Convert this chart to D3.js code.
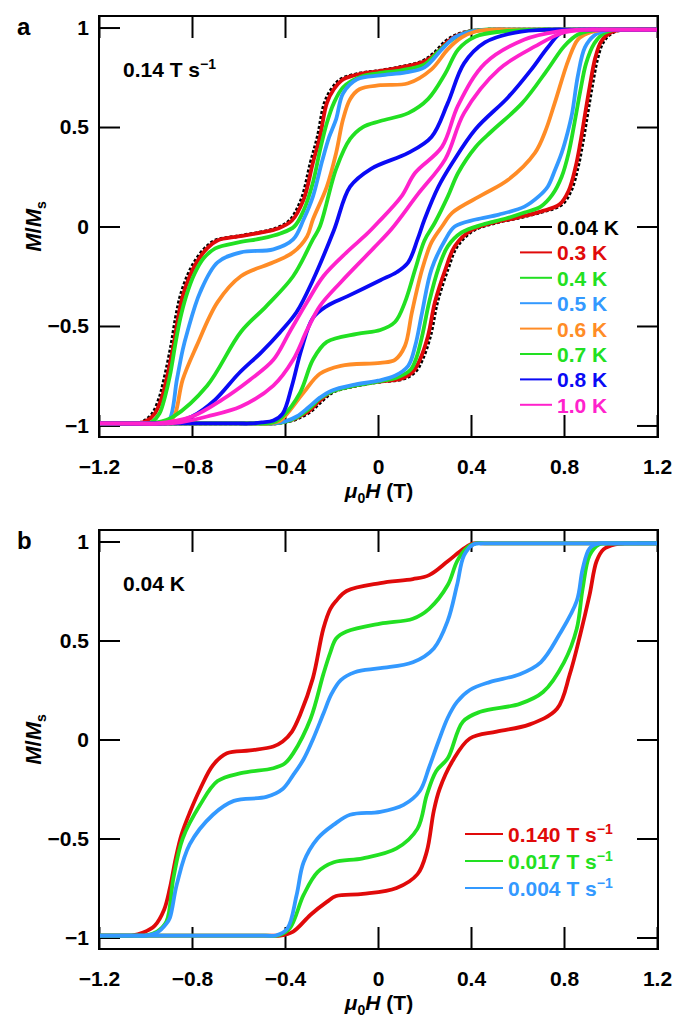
<!DOCTYPE html>
<html><head><meta charset="utf-8">
<script src="https://cdn.jsdelivr.net/npm/d3@7"></script>
<style>
body{margin:0;background:#fff}
text{font-family:"Liberation Sans",Arial,Helvetica,sans-serif;font-weight:bold}
</style>
</head><body>
<svg id="c" width="675" height="1021"></svg>
<script>
// ---------- axis ticks ----------
const xTicks = [-1.2,-0.8,-0.4,0,0.4,0.8,1.2];
const yTicks = [-1,-0.5,0,0.5,1];

// ---------- panel a : 0.14 T/s, temperature series ----------
const tempLabels = ["0.04 K","0.3 K","0.4 K","0.5 K","0.6 K","0.7 K","0.8 K","1.0 K"];
const tempColors = ["#000000","#e00a0a","#22e022","#3399ff","#ff8c26","#22e022","#0a0af5","#ff22cc"];

const k004Up = [[-1.2,-0.99],[-0.49,-0.99],[-0.44,-0.99],[-0.41,-0.985],[-0.37,-0.975],[-0.34,-0.962],[-0.29,-0.93],[-0.24,-0.875],[-0.19,-0.83],[-0.09,-0.80],[0.01,-0.78],[0.11,-0.765],[0.16,-0.73],[0.19,-0.67],[0.225,-0.55],[0.255,-0.38],[0.30,-0.215],[0.34,-0.10],[0.41,-0.02],[0.51,0.02],[0.61,0.045],[0.71,0.075],[0.79,0.11],[0.83,0.18],[0.86,0.30],[0.88,0.42],[0.90,0.56],[0.92,0.70],[0.945,0.85],[0.97,0.93],[1.01,0.975],[1.06,0.99],[1.11,0.99],[1.2,0.99]];
const k004Down = [[-1.2,-0.99],[-1.1,-0.99],[-1.05,-0.99],[-1.01,-0.98],[-0.97,-0.94],[-0.94,-0.86],[-0.92,-0.77],[-0.89,-0.60],[-0.87,-0.46],[-0.85,-0.35],[-0.82,-0.25],[-0.79,-0.18],[-0.745,-0.11],[-0.70,-0.07],[-0.61,-0.05],[-0.51,-0.03],[-0.44,-0.01],[-0.38,0.03],[-0.33,0.135],[-0.29,0.32],[-0.26,0.45],[-0.23,0.62],[-0.20,0.69],[-0.16,0.74],[-0.075,0.77],[-0.01,0.78],[0.09,0.80],[0.19,0.83],[0.24,0.87],[0.29,0.93],[0.34,0.965],[0.41,0.985],[0.49,0.99],[0.54,0.99],[1.2,0.99]];

const k03Up = [[-1.2,-0.99],[-0.5,-0.99],[-0.45,-0.99],[-0.42,-0.985],[-0.38,-0.975],[-0.35,-0.962],[-0.3,-0.93],[-0.25,-0.875],[-0.2,-0.83],[-0.1,-0.80],[0,-0.78],[0.1,-0.765],[0.15,-0.73],[0.18,-0.67],[0.215,-0.55],[0.245,-0.38],[0.29,-0.215],[0.33,-0.10],[0.4,-0.02],[0.5,0.02],[0.6,0.045],[0.7,0.075],[0.78,0.11],[0.82,0.18],[0.85,0.30],[0.87,0.42],[0.89,0.56],[0.91,0.70],[0.935,0.85],[0.96,0.93],[1.0,0.975],[1.05,0.99],[1.1,0.99],[1.2,0.99]];
const k03Down = [[-1.2,-0.99],[-1.09,-0.99],[-1.04,-0.99],[-1.0,-0.98],[-0.96,-0.94],[-0.93,-0.86],[-0.91,-0.77],[-0.88,-0.60],[-0.86,-0.46],[-0.84,-0.35],[-0.81,-0.25],[-0.78,-0.18],[-0.735,-0.11],[-0.69,-0.07],[-0.6,-0.05],[-0.5,-0.03],[-0.43,-0.01],[-0.37,0.03],[-0.32,0.135],[-0.28,0.32],[-0.25,0.45],[-0.22,0.62],[-0.19,0.69],[-0.15,0.74],[-0.065,0.77],[0,0.78],[0.1,0.80],[0.2,0.83],[0.25,0.87],[0.3,0.93],[0.35,0.965],[0.42,0.985],[0.5,0.99],[0.55,0.99],[1.2,0.99]];

const k04Up = [[-1.2,-0.99],[-0.5,-0.99],[-0.45,-0.99],[-0.40,-0.982],[-0.35,-0.96],[-0.30,-0.92],[-0.25,-0.865],[-0.2,-0.83],[-0.1,-0.80],[0,-0.78],[0.08,-0.76],[0.14,-0.72],[0.165,-0.66],[0.19,-0.55],[0.22,-0.38],[0.26,-0.21],[0.30,-0.10],[0.36,-0.03],[0.45,0.01],[0.55,0.04],[0.63,0.07],[0.70,0.10],[0.75,0.16],[0.79,0.25],[0.82,0.37],[0.845,0.52],[0.87,0.68],[0.895,0.82],[0.93,0.92],[0.97,0.97],[1.02,0.99],[1.07,0.99],[1.2,0.99]];
const k04Down = [[-1.2,-0.99],[-1.05,-0.99],[-1.0,-0.99],[-0.97,-0.98],[-0.94,-0.94],[-0.915,-0.85],[-0.895,-0.75],[-0.87,-0.58],[-0.85,-0.46],[-0.825,-0.35],[-0.79,-0.24],[-0.75,-0.16],[-0.7,-0.11],[-0.6,-0.08],[-0.5,-0.06],[-0.42,-0.035],[-0.36,0.0],[-0.32,0.08],[-0.28,0.22],[-0.25,0.38],[-0.22,0.52],[-0.19,0.62],[-0.15,0.70],[-0.08,0.75],[0,0.77],[0.1,0.785],[0.2,0.815],[0.26,0.88],[0.32,0.94],[0.38,0.975],[0.46,0.99],[0.51,0.99],[1.2,0.99]];

const k05Up = [[-1.2,-0.99],[-0.5,-0.99],[-0.45,-0.99],[-0.40,-0.98],[-0.35,-0.955],[-0.30,-0.91],[-0.25,-0.86],[-0.2,-0.825],[-0.1,-0.795],[0,-0.775],[0.073,-0.75],[0.13,-0.70],[0.16,-0.60],[0.19,-0.43],[0.23,-0.215],[0.29,-0.065],[0.33,0],[0.42,0.035],[0.52,0.06],[0.63,0.10],[0.69,0.15],[0.73,0.2],[0.76,0.28],[0.79,0.37],[0.815,0.47],[0.835,0.57],[0.86,0.76],[0.89,0.9],[0.93,0.96],[0.98,0.985],[1.02,0.99],[1.07,0.99],[1.2,0.99]];
const k05Down = [[-1.2,-0.99],[-1.0,-0.99],[-0.95,-0.99],[-0.92,-0.985],[-0.895,-0.965],[-0.865,-0.77],[-0.84,-0.62],[-0.82,-0.53],[-0.765,-0.33],[-0.69,-0.18],[-0.59,-0.13],[-0.45,-0.115],[-0.365,-0.065],[-0.32,0.035],[-0.28,0.15],[-0.24,0.33],[-0.21,0.45],[-0.18,0.54],[-0.15,0.67],[-0.09,0.74],[0.01,0.76],[0.12,0.775],[0.2,0.80],[0.275,0.89],[0.33,0.95],[0.4,0.98],[0.5,0.99],[0.55,0.99],[1.2,0.99]];

const k06Up = [[-1.2,-0.99],[-0.52,-0.99],[-0.47,-0.99],[-0.42,-0.975],[-0.39,-0.94],[-0.32,-0.835],[-0.25,-0.74],[-0.16,-0.70],[0.01,-0.685],[0.073,-0.67],[0.116,-0.60],[0.146,-0.43],[0.19,-0.215],[0.23,-0.08],[0.275,0.0],[0.32,0.07],[0.45,0.16],[0.56,0.235],[0.675,0.37],[0.72,0.48],[0.76,0.62],[0.82,0.84],[0.86,0.94],[0.9,0.97],[0.97,0.99],[1.02,0.99],[1.2,0.99]];
const k06Down = [[-1.2,-0.99],[-1.0,-0.99],[-0.95,-0.99],[-0.9,-0.98],[-0.875,-0.95],[-0.84,-0.77],[-0.78,-0.60],[-0.69,-0.38],[-0.59,-0.25],[-0.45,-0.18],[-0.365,-0.13],[-0.305,-0.05],[-0.28,0.035],[-0.22,0.2],[-0.18,0.37],[-0.15,0.54],[-0.12,0.64],[-0.08,0.69],[0.01,0.71],[0.13,0.72],[0.23,0.79],[0.30,0.89],[0.36,0.95],[0.42,0.98],[0.5,0.99],[0.55,0.99],[1.2,0.99]];

const k07Up = [[-1.2,-0.99],[-0.53,-0.99],[-0.48,-0.99],[-0.44,-0.98],[-0.41,-0.955],[-0.335,-0.835],[-0.28,-0.67],[-0.22,-0.58],[-0.09,-0.54],[0.01,-0.52],[0.073,-0.48],[0.116,-0.38],[0.16,-0.215],[0.2,-0.07],[0.245,0.02],[0.3,0.15],[0.345,0.27],[0.42,0.40],[0.49,0.48],[0.62,0.62],[0.73,0.79],[0.80,0.905],[0.86,0.965],[0.95,0.99],[1.0,0.99],[1.2,0.99]];
const k07Down = [[-1.2,-0.99],[-1.0,-0.99],[-0.95,-0.985],[-0.88,-0.955],[-0.735,-0.80],[-0.59,-0.53],[-0.48,-0.40],[-0.365,-0.25],[-0.28,-0.065],[-0.25,0.0],[-0.18,0.29],[-0.12,0.44],[-0.065,0.50],[0.01,0.53],[0.13,0.57],[0.215,0.64],[0.29,0.77],[0.345,0.89],[0.42,0.955],[0.53,0.98],[0.7,0.99],[0.75,0.99],[1.2,0.99]];

const k08Up = [[-1.2,-0.99],[-0.6,-0.99],[-0.55,-0.99],[-0.5,-0.985],[-0.45,-0.975],[-0.41,-0.94],[-0.37,-0.80],[-0.33,-0.62],[-0.28,-0.46],[-0.22,-0.40],[-0.13,-0.35],[0.01,-0.27],[0.08,-0.23],[0.13,-0.18],[0.17,-0.065],[0.2,0.035],[0.26,0.2],[0.32,0.32],[0.42,0.49],[0.56,0.65],[0.66,0.79],[0.73,0.9],[0.79,0.975],[0.9,0.99],[0.95,0.99],[1.2,0.99]];
const k08Down = [[-1.2,-0.99],[-0.93,-0.99],[-0.88,-0.985],[-0.8,-0.955],[-0.7,-0.87],[-0.6,-0.74],[-0.5,-0.63],[-0.42,-0.53],[-0.35,-0.43],[-0.28,-0.27],[-0.19,-0.02],[-0.12,0.2],[-0.03,0.29],[0.13,0.37],[0.23,0.45],[0.30,0.62],[0.37,0.82],[0.46,0.925],[0.59,0.975],[0.75,0.99],[0.8,0.99],[1.2,0.99]];

const k10Up = [[-1.2,-0.99],[-0.9,-0.99],[-0.85,-0.985],[-0.735,-0.955],[-0.59,-0.905],[-0.45,-0.80],[-0.365,-0.67],[-0.305,-0.52],[-0.25,-0.40],[-0.16,-0.28],[-0.02,-0.11],[0.06,-0.01],[0.17,0.16],[0.29,0.34],[0.37,0.57],[0.52,0.79],[0.675,0.905],[0.80,0.975],[0.95,0.99],[1.0,0.99],[1.2,0.99]];
const k10Down = [[-1.2,-0.99],[-1.0,-0.99],[-0.95,-0.99],[-0.8,-0.955],[-0.67,-0.87],[-0.55,-0.77],[-0.45,-0.67],[-0.38,-0.53],[-0.305,-0.38],[-0.235,-0.25],[-0.135,-0.13],[-0.05,-0.04],[0.0,0.02],[0.1,0.15],[0.16,0.27],[0.275,0.40],[0.345,0.61],[0.46,0.82],[0.63,0.94],[0.77,0.98],[0.9,0.99],[0.95,0.99],[1.2,0.99]];

// ---------- panel b : 0.04 K, sweep-rate series ----------
const rateLabels = ["0.140","0.017","0.004"];
const rateColors = ["#e00a0a","#22e022","#3399ff"];

const r140Up = [[-1.2,-0.99],[-0.47,-0.99],[-0.42,-0.99],[-0.365,-0.97],[-0.29,-0.885],[-0.22,-0.82],[-0.18,-0.79],[-0.065,-0.78],[0.08,-0.75],[0.17,-0.68],[0.21,-0.565],[0.24,-0.36],[0.265,-0.25],[0.32,-0.11],[0.395,0.005],[0.51,0.04],[0.65,0.075],[0.77,0.155],[0.825,0.33],[0.87,0.53],[0.91,0.73],[0.94,0.90],[0.97,0.96],[1.02,0.985],[1.06,0.99],[1.11,0.99],[1.2,0.99]];
const r140Down = [[-1.2,-0.99],[-1.11,-0.99],[-1.06,-0.99],[-1.01,-0.975],[-0.96,-0.94],[-0.92,-0.86],[-0.895,-0.75],[-0.87,-0.60],[-0.845,-0.48],[-0.81,-0.37],[-0.765,-0.25],[-0.71,-0.13],[-0.65,-0.07],[-0.55,-0.055],[-0.45,-0.035],[-0.41,-0.01],[-0.37,0.04],[-0.335,0.125],[-0.28,0.31],[-0.235,0.56],[-0.205,0.66],[-0.18,0.70],[-0.135,0.75],[0.01,0.79],[0.15,0.81],[0.22,0.83],[0.30,0.90],[0.37,0.965],[0.41,0.99],[0.46,0.99],[1.2,0.99]];

const r017Up = [[-1.2,-0.99],[-0.48,-0.99],[-0.43,-0.99],[-0.38,-0.955],[-0.32,-0.785],[-0.26,-0.67],[-0.19,-0.62],[-0.065,-0.60],[0.08,-0.55],[0.17,-0.45],[0.21,-0.28],[0.25,-0.16],[0.30,-0.095],[0.365,0.09],[0.44,0.14],[0.61,0.18],[0.71,0.24],[0.80,0.39],[0.855,0.56],[0.88,0.76],[0.91,0.93],[0.95,0.985],[0.99,0.99],[1.04,0.99],[1.2,0.99]];
const r017Down = [[-1.2,-0.99],[-1.05,-0.99],[-1.0,-0.99],[-0.95,-0.97],[-0.91,-0.92],[-0.88,-0.70],[-0.84,-0.50],[-0.765,-0.33],[-0.69,-0.21],[-0.59,-0.17],[-0.45,-0.145],[-0.40,-0.12],[-0.365,-0.07],[-0.29,0.105],[-0.235,0.33],[-0.205,0.44],[-0.18,0.51],[-0.135,0.545],[0.01,0.585],[0.15,0.61],[0.22,0.66],[0.30,0.78],[0.34,0.90],[0.38,0.965],[0.42,0.99],[0.47,0.99],[1.2,0.99]];

const r004Up = [[-1.2,-0.99],[-0.49,-0.99],[-0.44,-0.99],[-0.39,-0.955],[-0.35,-0.785],[-0.32,-0.62],[-0.26,-0.50],[-0.19,-0.43],[-0.12,-0.38],[0.01,-0.365],[0.11,-0.33],[0.18,-0.26],[0.22,-0.14],[0.26,-0.01],[0.30,0.11],[0.34,0.19],[0.395,0.25],[0.48,0.29],[0.61,0.33],[0.70,0.39],[0.78,0.53],[0.855,0.70],[0.88,0.86],[0.91,0.965],[0.95,0.99],[1.0,0.99],[1.2,0.99]];
const r004Down = [[-1.2,-0.99],[-1.05,-0.99],[-1.0,-0.99],[-0.95,-0.975],[-0.91,-0.93],[-0.895,-0.9],[-0.865,-0.73],[-0.81,-0.53],[-0.71,-0.38],[-0.62,-0.31],[-0.48,-0.29],[-0.41,-0.25],[-0.365,-0.18],[-0.32,-0.10],[-0.28,0.0],[-0.235,0.13],[-0.2,0.23],[-0.16,0.30],[-0.1,0.34],[0.01,0.36],[0.15,0.39],[0.24,0.46],[0.30,0.60],[0.34,0.78],[0.37,0.93],[0.41,0.985],[0.45,0.99],[0.5,0.99],[1.2,0.99]];

// ---------- assemble ----------
const panelA = [
  {up:k004Up, down:k004Down, dash:true},
  {up:k03Up, down:k03Down},{up:k04Up, down:k04Down},{up:k05Up, down:k05Down},
  {up:k06Up, down:k06Down},{up:k07Up, down:k07Down},{up:k08Up, down:k08Down},
  {up:k10Up, down:k10Down}
].map((d,i)=>Object.assign(d,{label:tempLabels[i], color:tempColors[i]}));
const panelB = [
  {up:r140Up, down:r140Down},{up:r017Up, down:r017Down},{up:r004Up, down:r004Down}
].map((d,i)=>Object.assign(d,{label:rateLabels[i], color:rateColors[i]}));

const svg = d3.select("#c");
const X0 = 99, X1 = 657;
const x = d3.scaleLinear().domain([-1.2,1.2]).range([X0,X1]);
const fmt = d => d3.format("")(d);

function panel(top, bottom, series, letter, note, legendY, legendType){
  const y = d3.scaleLinear().domain([-1.058,1.058]).range([bottom, top]);
  const g = svg.append("g");
  const clipId = "clip"+letter;
  g.append("clipPath").attr("id",clipId).append("rect")
    .attr("x",X0).attr("y",top).attr("width",X1-X0+1).attr("height",bottom-top);

  // axes
  g.append("g").attr("transform",`translate(0,${bottom})`)
    .call(d3.axisBottom(x).tickValues(xTicks).tickSize(-22).tickSizeOuter(0).tickPadding(22).tickFormat(fmt));
  g.append("g").attr("transform",`translate(0,${top})`)
    .call(d3.axisTop(x).tickValues(xTicks).tickSize(-22).tickSizeOuter(0).tickFormat(""));
  g.append("g").attr("transform",`translate(${X0},0)`)
    .call(d3.axisLeft(y).tickValues(yTicks).tickSize(-21).tickSizeOuter(0).tickPadding(10).tickFormat(fmt));
  g.append("g").attr("transform",`translate(${X1+1},0)`)
    .call(d3.axisRight(y).tickValues(yTicks).tickSize(-21).tickSizeOuter(0).tickFormat(""));
  g.selectAll(".domain").remove();
  g.selectAll(".tick line").attr("stroke","#000").attr("stroke-width",2);
  g.selectAll(".tick text").attr("fill","#000").style("font-size","21px");

  // curves
  const line = d3.line().x(d=>x(d[0])).y(d=>y(d[1])).curve(d3.curveCatmullRom.alpha(0.5));
  const cg = g.append("g").attr("clip-path",`url(#${clipId})`);
  series.forEach(s=>{
    [s.up, s.down].forEach(arr=>{
      cg.append("path").attr("d",line(arr)).attr("fill","none")
        .attr("stroke",s.color).attr("stroke-width",s.dash?3.5:3.8)
        .attr("stroke-linejoin","round")
        .attr("stroke-dasharray",s.dash?"3,2":null);
    });
  });

  // frame
  g.append("rect").attr("x",X0).attr("y",top).attr("width",X1-X0+1).attr("height",bottom-top)
    .attr("fill","none").attr("stroke","#000").attr("stroke-width",2);

  // panel letter
  g.append("text").attr("x",17).attr("y",top+19).style("font-size","24px").text(letter);

  // note
  const nt = g.append("text").attr("x",123).attr("y",top+61).style("font-size","21px");
  nt.append("tspan").text(note[0]);
  if(note[1]) nt.append("tspan").attr("dy",-8).style("font-size","14px").text(note[1]);

  // y label
  const yl = g.append("text").attr("transform",`translate(41,${y(0)}) rotate(-90)`)
    .attr("text-anchor","middle").style("font-size","22px");
  yl.append("tspan").style("font-style","italic").text("M");
  yl.append("tspan").text("/");
  yl.append("tspan").style("font-style","italic").text("M");
  yl.append("tspan").attr("dy",5).style("font-size","14px").text("s");

  // x label
  const xl = g.append("text").attr("x",379).attr("y",bottom+61).attr("text-anchor","middle").style("font-size","21px");
  xl.append("tspan").style("font-style","italic").text("μ");
  xl.append("tspan").attr("dy",5).style("font-size","14px").text("0");
  xl.append("tspan").attr("dy",-5).style("font-style","italic").text("H");
  xl.append("tspan").text(" (T)");

  // legend
  series.forEach((s,i)=>{
    const ly = legendY[0] + i*legendY[1];
    g.append("line").attr("x1",legendType==="a"?520:465).attr("x2",legendType==="a"?552:503)
      .attr("y1",ly).attr("y2",ly).attr("stroke",s.color).attr("stroke-width",2);
    const t = g.append("text").attr("x",legendType==="a"?557:508).attr("y",ly+8)
      .attr("fill",s.color).style("font-size","21px");
    if(legendType==="a"){ t.text(s.label); }
    else {
      t.append("tspan").text(s.label+" T s");
      t.append("tspan").attr("dy",-8).style("font-size","14px").text("−1");
    }
  });
}

panel(16, 437, panelA, "a", ["0.14 T s","−1"], [227,25.4], "a");
panel(530, 949, panelB, "b", ["0.04 K"], [834,27], "b");
</script>
</body></html>
